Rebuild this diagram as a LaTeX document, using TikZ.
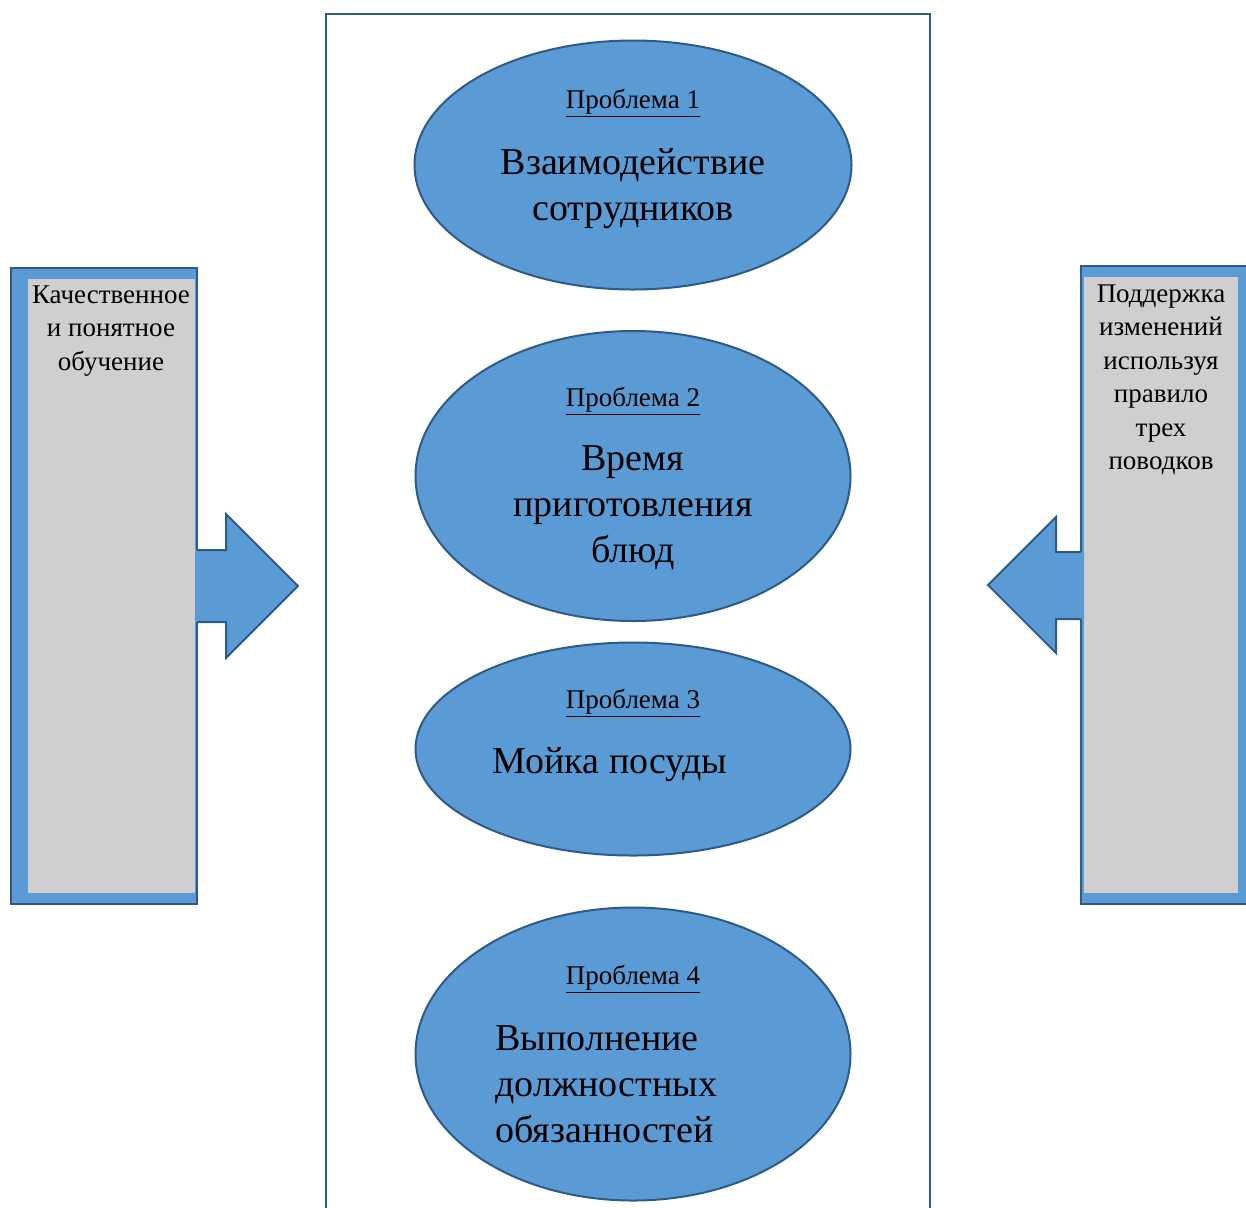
\documentclass[tikz,border=0pt]{standalone}
\usepackage{fontspec}
\setmainfont{Liberation Serif}
\usetikzlibrary{shapes.geometric}

\definecolor{fillblue}{HTML}{5B9BD5}
\definecolor{lineblue}{HTML}{2E5A87}
\definecolor{panelgrey}{HTML}{D0CECE}

\tikzset{
  problem/.style={ellipse, draw=lineblue, line width=1pt, fill=fillblue, inner sep=0pt},
  tag/.style={font=\fontsize{13.5}{16}\selectfont, anchor=base, inner sep=0pt},
  bigtext/.style={font=\fontsize{19}{23}\selectfont, inner sep=0pt, anchor=north},
  sidetext/.style={font=\fontsize{13.5}{16.75}\selectfont, align=center, inner sep=0pt, anchor=north},
  frameline/.style={draw=lineblue, line width=1.2pt},
  block/.style={fill=fillblue},
  blockline/.style={draw=lineblue, line width=1pt, line join=miter},
}

\begin{document}
\begin{tikzpicture}[x=0.5pt, y=-0.5pt]
  \useasboundingbox (0,0) rectangle (1246,1207);
  % central frame, open at the bottom
  \draw[frameline] (326,1212) |- (930,14) -- (930,1212);
  %
  \node[problem, minimum width=218.5pt, minimum height=124.5pt] (p1) at (633,165) {};
  \node[problem, minimum width=217.5pt, minimum height=145pt]   (p2) at (633,476) {};
  \node[problem, minimum width=217.5pt, minimum height=106.5pt] (p3) at (633,749) {};
  \node[problem, minimum width=217.5pt, minimum height=146.5pt] (p4) at (633,1054) {};
  %
  \node[tag] (t1) at (633,108) {\underline{Проблема 1}};
  \node[tag] (t2) at (633,406) {\underline{Проблема 2}};
  \node[tag] (t3) at (633,708) {\underline{Проблема 3}};
  \node[tag] (t4) at (633,984) {\underline{Проблема 4}};
  %
  \node[bigtext, align=center] (b1) at (633,148) {Взаимодействие\\сотрудников};
  \node[bigtext, align=center] (b2) at (633,445) {Время\\приготовления\\блюд};
  \node[bigtext, anchor=base] (b3) at (610,773) {Мойка посуды};
  \node[bigtext, align=left, anchor=north west] (b4) at (495,1025) {Выполнение\\должностных\\обязанностей};
  %
  % left panel and arrow
  \draw[block, blockline] (11,268) rectangle (197,904);
  \fill[panelgrey] (28,279) rectangle (195,893);
  \fill[block] (195,550) -- (226,550) -- (226,514) -- (298,586) -- (226,658) -- (226,622) -- (195,622) -- cycle;
  \draw[blockline] (197,550) -- (226,550) -- (226,514) -- (298,586) -- (226,658) -- (226,622) -- (197,622);
  \node[sidetext] (lt) at (111,285) {Качественное\\и понятное\\обучение};
  %
  % right panel and arrow
  \draw[block, blockline] (1081,266) rectangle (1252,904);
  \fill[panelgrey] (1084,277) rectangle (1238,893);
  \fill[block] (1084,552) -- (1056,552) -- (1056,517) -- (988,585) -- (1056,653) -- (1056,619) -- (1084,619) -- cycle;
  \draw[blockline] (1081,552) -- (1056,552) -- (1056,517) -- (988,585) -- (1056,653) -- (1056,619) -- (1081,619);
  \node[sidetext] (rt) at (1161,284) {Поддержка\\изменений\\используя\\правило\\трех\\поводков};
\end{tikzpicture}
\end{document}
